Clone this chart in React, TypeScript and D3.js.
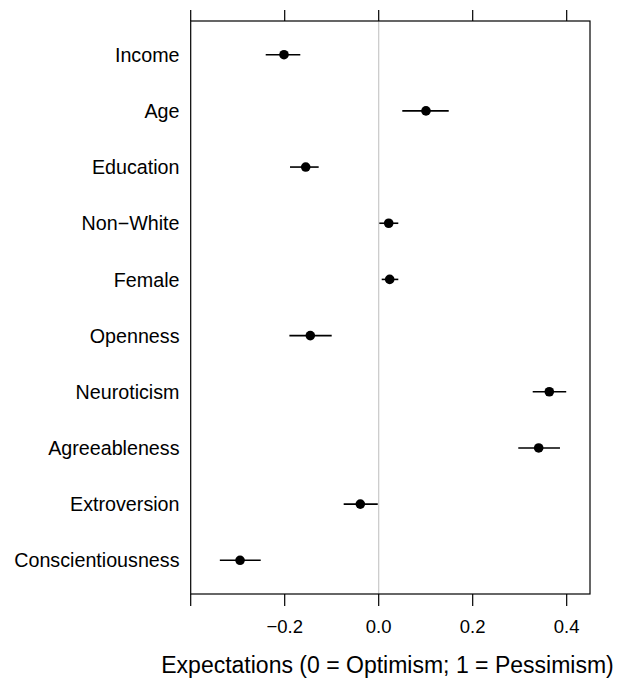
import React from "react";
import * as d3 from "d3";

// Predictors, top to bottom
const predictors = [
  "Income",
  "Age",
  "Education",
  "Non\u2212White",
  "Female",
  "Openness",
  "Neuroticism",
  "Agreeableness",
  "Extroversion",
  "Conscientiousness",
];

// Point estimates and interval bounds
const estimates = [-0.2015, 0.1006, -0.1553, 0.0213, 0.0234, -0.1455, 0.363, 0.3404, -0.0391, -0.295];
const lowerBounds = [-0.2404, 0.0502, -0.1887, 0.0013, 0.0064, -0.19, 0.3277, 0.297, -0.0745, -0.338];
const upperBounds = [-0.1668, 0.149, -0.1277, 0.0417, 0.0417, -0.1, 0.399, 0.3857, -0.002, -0.251];

const tickValues = [-0.4, -0.2, 0.0, 0.2, 0.4];
const labelledTicks = [-0.2, 0.0, 0.2, 0.4];

const W = 622;
const H = 682;
const left = 190.7;
const right = 590;
const top = 21;
const bottom = 594;
const font = "'Liberation Sans', Arial, Helvetica, sans-serif";

const fmt = (v: number) => {
  const s = d3.format(".1f")(Math.abs(v));
  return v < 0 ? "\u2212" + s : s;
};

export default function App() {
  const x = d3.scaleLinear().domain([-0.4, 0.4496]).range([left, right]);
  const y = d3
    .scaleLinear()
    .domain([0.4, predictors.length + 0.6])
    .range([top, bottom]);

  return (
    <svg
      width={W}
      height={H}
      style={{ position: "absolute", left: 0, top: 0, background: "#fff" }}
      fontFamily={font}
    >
      <rect x={0} y={0} width={W} height={H} fill="#fff" />
      {/* zero reference line */}
      <line x1={x(0)} x2={x(0)} y1={top} y2={bottom} stroke="#c8c8c8" strokeWidth={1.2} />

      {/* intervals and points */}
      {predictors.map((p, i) => (
        <g key={p}>
          <line
            x1={x(lowerBounds[i])}
            x2={x(upperBounds[i])}
            y1={y(i + 1)}
            y2={y(i + 1)}
            stroke="#000"
            strokeWidth={1.6}
          />
          <circle cx={x(estimates[i])} cy={y(i + 1)} r={4.8} fill="#000" />
          <text
            x={179.5}
            y={y(i + 1)}
            dy="0.36em"
            textAnchor="end"
            fontSize={19.7}
            fill="#000"
          >
            {p}
          </text>
        </g>
      ))}

      {/* panel border */}
      <rect
        x={left}
        y={top}
        width={right - left}
        height={bottom - top}
        fill="none"
        stroke="#000"
        strokeWidth={1.2}
      />

      {/* ticks top and bottom */}
      {tickValues.map((t) => (
        <g key={t}>
          <line x1={x(t)} x2={x(t)} y1={top} y2={top - 11} stroke="#000" strokeWidth={1.2} />
          <line x1={x(t)} x2={x(t)} y1={bottom} y2={bottom + 12} stroke="#000" strokeWidth={1.2} />
        </g>
      ))}
      {labelledTicks.map((t) => (
        <text key={t} x={x(t)} y={633} textAnchor="middle" fontSize={18.5} fill="#000">
          {fmt(t)}
        </text>
      ))}

      <text x={387.5} y={673} textAnchor="middle" fontSize={23} fill="#000">
        Expectations (0 = Optimism; 1 = Pessimism)
      </text>
    </svg>
  );
}
